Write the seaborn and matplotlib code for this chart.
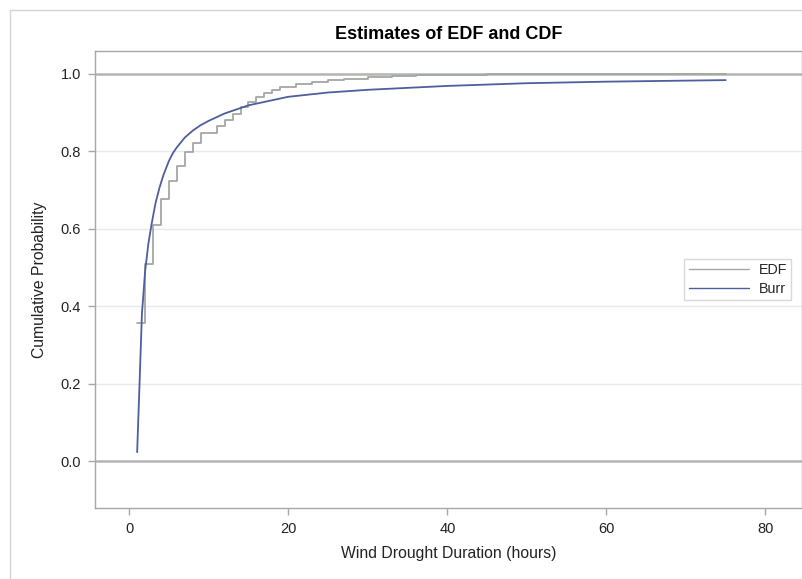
import matplotlib
matplotlib.use("Agg")
import matplotlib.pyplot as plt
import seaborn as sns
import pandas as pd
from matplotlib.lines import Line2D

# EDF step points (hours, cumulative probability after the step)
edf_hours = [1, 2, 3, 4, 5, 6, 7, 8, 9, 11, 12, 13, 14, 15, 16, 17, 18, 19,
             21, 23, 25, 27, 30, 33, 36, 40, 45, 60, 75]
edf_prob = [0.358, 0.509, 0.609, 0.677, 0.724, 0.761, 0.797, 0.820, 0.847,
            0.865, 0.880, 0.895, 0.913, 0.927, 0.940, 0.949, 0.957, 0.966,
            0.973, 0.979, 0.983, 0.987, 0.990, 0.993, 0.995, 0.997, 0.998,
            0.999, 1.000]

# fitted Burr CDF
burr_hours = [1.0, 1.3, 1.6, 2.0, 2.4, 2.8, 3.3, 3.8, 4.3, 5.0, 5.5, 6.0,
              7.0, 8.0, 9.0, 10, 12, 15, 20, 25, 30, 40, 50, 60, 75]
burr_prob = [0.024, 0.20, 0.38, 0.49, 0.56, 0.61, 0.665, 0.705, 0.738, 0.775,
             0.795, 0.81, 0.835, 0.853, 0.867, 0.878, 0.897, 0.918, 0.94,
             0.951, 0.958, 0.968, 0.975, 0.979, 0.983]

x_ticks = [0, 20, 40, 60, 80]
y_ticks = [0.0, 0.2, 0.4, 0.6, 0.8, 1.0]

edf_df = pd.DataFrame({"hours": edf_hours, "prob": edf_prob})
burr_df = pd.DataFrame({"hours": burr_hours, "prob": burr_prob})

sns.set_theme(style="white")
plt.rcParams["font.family"] = ["Liberation Sans", "DejaVu Sans"]

fig = plt.figure(figsize=(8.03, 5.79), dpi=100)
ax = fig.add_axes([0.1183, 0.1226, 0.8805, 0.7893])

# outer frame of the graph (left and top edges visible)
fig.add_artist(Line2D([10 / 803, 10 / 803], [0, 1 - 10 / 579],
                      transform=fig.transFigure, color="#D4D4D4", lw=1))
fig.add_artist(Line2D([10 / 803, 1], [1 - 10 / 579, 1 - 10 / 579],
                      transform=fig.transFigure, color="#D4D4D4", lw=1))

for y in [0.2, 0.4, 0.6, 0.8]:
    ax.axhline(y, color="#E8E8E8", lw=1, zorder=0)
for y in [0.0, 1.0]:
    ax.axhline(y, color="#B4B4B4", lw=1.8, zorder=1)

sns.lineplot(data=edf_df, x="hours", y="prob", ax=ax, color="#A3A8A3",
             lw=1.3, drawstyle="steps-post", label="EDF", sort=False)
sns.lineplot(data=burr_df, x="hours", y="prob", ax=ax, color="#4E5E9E",
             lw=1.3, label="Burr", sort=False)

ax.set_xlim(-4.3, 84.6)
ax.set_ylim(-0.12, 1.058)
ax.set_xticks(x_ticks)
ax.set_yticks(y_ticks)
ax.set_xticklabels([str(t) for t in x_ticks])
ax.set_yticklabels([f"{t:.1f}" for t in y_ticks])

for s in ax.spines.values():
    s.set_color("#A8A8A8")
    s.set_linewidth(1)
ax.tick_params(axis="both", bottom=True, left=True, direction="out",
               length=5, width=1, color="#A8A8A8", labelsize=10.5,
               labelcolor="#222222", pad=5)

ax.set_xlabel("Wind Drought Duration (hours)", fontsize=11.3, color="#222222",
              labelpad=7)
ax.set_ylabel("Cumulative Probability", fontsize=11.3, color="#222222",
              labelpad=10)
ax.set_title("Estimates of EDF and CDF", fontsize=13, fontweight="bold",
             color="black", pad=9)

leg = ax.legend(loc="center right", bbox_to_anchor=(0.985, 0.5),
                fontsize=10.3, frameon=True, fancybox=False, handlelength=4.2,
                handletextpad=0.7, borderpad=0.3, labelspacing=0.35,
                borderaxespad=0)
leg.get_frame().set_edgecolor("#D0D0D0")
leg.get_frame().set_linewidth(1)
for line in leg.get_lines():
    line.set_linewidth(1)

plt.savefig("out.png", dpi=100)
plt.close()
